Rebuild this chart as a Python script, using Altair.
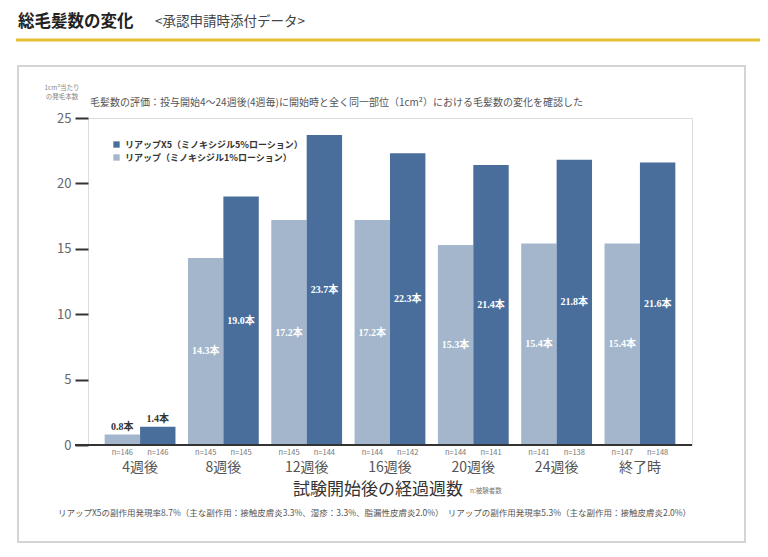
import altair as alt
import pandas as pd

categories = ["4週後", "8週後", "12週後", "16週後", "20週後", "24週後", "終了時"]
x5_values = [1.4, 19.0, 23.7, 22.3, 21.4, 21.8, 21.6]
riup_values = [0.8, 14.3, 17.2, 17.2, 15.3, 15.4, 15.4]
x5_n = [146, 145, 144, 142, 141, 138, 148]
riup_n = [146, 145, 145, 144, 144, 141, 147]
S_X5 = "リアップX5（ミノキシジル5%ローション）"
S_R = "リアップ（ミノキシジル1%ローション）"
y_ticks = [0, 5, 10, 15, 20, 25]

page_title = "総毛髪数の変化"
page_sub = "<承認申請時添付データ>"
unit1 = "1cm²当たり"
unit2 = "の発毛本数"
subtitle = "毛髪数の評価：投与開始4～24週後(4週毎)に開始時と全く同一部位（1cm²）における毛髪数の変化を確認した"
x_title = "試験開始後の経過週数"
n_note = "n:被験者数"
footer = "リアップX5の副作用発現率8.7%（主な副作用：接触皮膚炎3.3%、湿疹：3.3%、脂漏性皮膚炎2.0%）　リアップの副作用発現率5.3%（主な副作用：接触皮膚炎2.0%）"

DARK = "#4a6e9c"
LIGHT = "#a3b6cc"
FONT = "Noto Sans CJK JP"

rows = []
for c, r, x, rn, xn in zip(categories, riup_values, x5_values, riup_n, x5_n):
    rows.append({"cat": c, "series": S_R, "value": r, "n": rn})
    rows.append({"cat": c, "series": S_X5, "value": x, "n": xn})
df = pd.DataFrame(rows)

x_enc = alt.X("cat:N", sort=categories,
              scale=alt.Scale(paddingInner=0.15, paddingOuter=0.2),
              axis=alt.Axis(title=None, labelAngle=0, labelFontSize=14, labelColor="#555",
                            labelPadding=15, ticks=False, domain=False, labelFont=FONT))
xo_enc = alt.XOffset("series:N", sort=[S_R, S_X5], scale=alt.Scale(paddingInner=0))
y_axis = alt.Axis(title=None, values=y_ticks, tickSize=13, tickWidth=2, tickColor="#333",
                  labelFontSize=13, labelColor="#666", labelPadding=4, domain=False,
                  grid=False, labelFont=FONT)
y_scale = alt.Scale(domain=[0, 25], nice=False)

base = alt.Chart(df).encode(x=x_enc, xOffset=xo_enc)

bars = base.mark_bar().encode(
    y=alt.Y("value:Q", scale=y_scale, axis=y_axis),
    color=alt.Color("series:N", scale=alt.Scale(domain=[S_X5, S_R], range=[DARK, LIGHT]),
                    legend=alt.Legend(title=None, orient="none", legendX=24, legendY=22,
                                      symbolType="square", symbolSize=40, symbolStrokeWidth=0,
                                      labelFontSize=9, labelFontWeight="bold", labelColor="#333",
                                      labelFont=FONT, rowPadding=3, labelLimit=0)),
)

inside = base.transform_filter("datum.value >= 5").transform_calculate(
    mid="datum.value / 2", label="format(datum.value, '.1f') + '本'"
).mark_text(color="white", fontWeight="bold", fontSize=10, font="Liberation Serif, " + FONT).encode(
    y=alt.Y("mid:Q", scale=y_scale, axis=y_axis), text="label:N"
)

above = base.transform_filter("datum.value < 5").transform_calculate(
    label="format(datum.value, '.1f') + '本'"
).mark_text(color="#333", fontWeight="bold", fontSize=10, dy=-8, font="Liberation Serif, " + FONT).encode(
    y=alt.Y("value:Q", scale=y_scale, axis=y_axis), text="label:N"
)

nlab = base.transform_calculate(nl="'n=' + datum.n").mark_text(
    fontSize=7.5, color="#777", baseline="top", font=FONT
).encode(y=alt.value(331), text="nl:N")


def txt(s, x, y, size, color="#333", weight="normal", align="left"):
    return alt.Chart(pd.DataFrame({"t": [s]})).mark_text(
        fontSize=size, color=color, fontWeight=weight, align=align, baseline="middle", font=FONT
    ).encode(x=alt.value(x), y=alt.value(y), text="t:N")


one = pd.DataFrame({"a": [1]})
frame = alt.Chart(one).mark_rect(fillOpacity=0, stroke="#d4d4d4", strokeWidth=2).encode(
    x=alt.value(-70), x2=alt.value(657), y=alt.value(-52), y2=alt.value(424))
yellow = alt.Chart(one).mark_rule(color="#e6c030", strokeWidth=3).encode(
    x=alt.value(-72), x2=alt.value(690), y=alt.value(-78))
xline = alt.Chart(one).mark_rule(color="#333", strokeWidth=2).encode(
    x=alt.value(-13), x2=alt.value(604), y=alt.value(327))

chart = alt.layer(
    frame, yellow, bars, inside, above, nlab, xline,
    txt(page_title, -70, -96, 16.5, "#222", "bold"),
    txt(page_sub, 67, -96, 13.5, "#444"),
    txt(unit1, -26, -30, 6.5, "#888", align="center"),
    txt(unit2, -26, -21, 6.5, "#888", align="center"),
    txt(subtitle, 2, -15, 10, "#555"),
    txt(x_title, 290, 372, 17, "#333", align="center"),
    txt(n_note, 382, 373, 6.5, "#777"),
    txt(footer, -30, 395, 8.5, "#555"),
).properties(
    width=604, height=327,
    autosize=alt.AutoSizeParams(type="none"),
    padding={"left": 80, "top": 110, "right": 68, "bottom": 104},
).configure_view(stroke="#333", strokeWidth=2).configure(font=FONT)

chart.save("out.html", embed_options={"renderer": "svg", "actions": False})
